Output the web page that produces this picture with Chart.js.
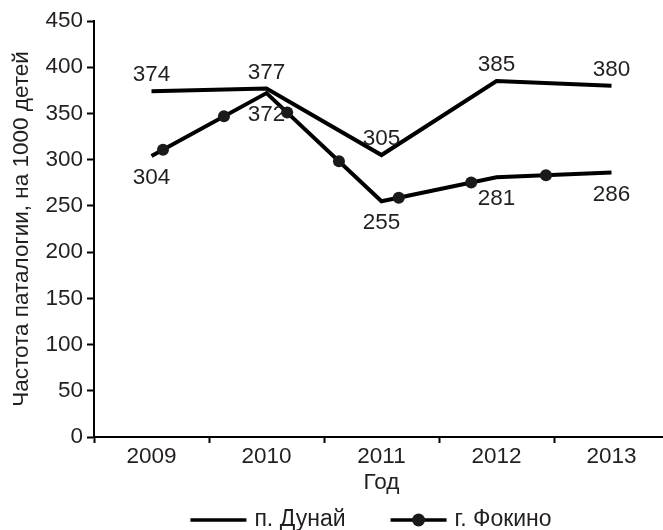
<!DOCTYPE html>
<html>
<head>
<meta charset="utf-8">
<script src="https://cdn.jsdelivr.net/npm/chart.js@4"></script>
<style>
html, body { margin: 0; padding: 0; overflow: hidden; background: #fff; }
#wrap { width: 669px; height: 530px; }
</style>
</head>
<body>
<div id="wrap"><canvas id="line-chart"></canvas></div>
<script>
const years = ['2009', '2010', '2011', '2012', '2013'];
const dunai = [374, 377, 305, 385, 380];
const fokino = [304, 372, 255, 281, 286];
const seriesNames = ['п. Дунай', 'г. Фокино'];

const ink = '#000';
const textInk = '#231f20';
const fontFamily = '"Liberation Sans", Arial, sans-serif';

Chart.defaults.font.family = fontFamily;
Chart.defaults.font.size = 22.5;
Chart.defaults.color = textInk;

// value labels above (-1) or below (+1) each point
const valueLabels = {
    id: 'valueLabels',
    afterDatasetsDraw(chart) {
        const ctx = chart.ctx;
        ctx.save();
        ctx.font = '22.5px ' + fontFamily;
        ctx.fillStyle = textInk;
        ctx.textAlign = 'center';
        ctx.textBaseline = 'middle';
        chart.data.datasets.forEach((ds, i) => {
            const meta = chart.getDatasetMeta(i);
            const shift = ds.labelSide < 0 ? -16 : 22;
            meta.data.forEach((pt, j) => {
                ctx.fillText(String(ds.data[j]), pt.x, pt.y + shift);
            });
        });
        ctx.restore();
    }
};

// the original puts the Фокино dots along the line, between the years
const lineMarkers = {
    id: 'lineMarkers',
    afterDatasetsDraw(chart) {
        const ctx = chart.ctx;
        chart.data.datasets.forEach((ds, i) => {
            if (!ds.markerAt) return;
            const pts = chart.getDatasetMeta(i).data;
            ctx.save();
            ctx.fillStyle = '#1a1a1a';
            ds.markerAt.forEach(f => {
                const k = Math.floor(f);
                const t = f - k;
                const a = pts[k], b = pts[k + 1];
                const x = a.x + (b.x - a.x) * t;
                const y = a.y + (b.y - a.y) * t;
                ctx.beginPath();
                ctx.arc(x, y, 6, 0, Math.PI * 2);
                ctx.fill();
            });
            ctx.restore();
        });
    }
};

const bottomLegend = {
    id: 'bottomLegend',
    afterDraw(chart) {
        const ctx = chart.ctx;
        const y = 520;
        const lineLen = 56, textGap = 8, itemGap = 45;
        ctx.save();
        ctx.font = '23px ' + fontFamily;
        const widths = chart.data.datasets.map(ds => ctx.measureText(ds.label).width);
        let total = 0;
        widths.forEach((w, i) => { total += lineLen + textGap + w + (i ? itemGap : 0); });
        let x = 371 - total / 2;
        chart.data.datasets.forEach((ds, i) => {
            ctx.strokeStyle = ink;
            ctx.lineWidth = 3.5;
            ctx.beginPath();
            ctx.moveTo(x, y);
            ctx.lineTo(x + lineLen, y);
            ctx.stroke();
            if (ds.markerAt) {
                ctx.fillStyle = '#1a1a1a';
                ctx.beginPath();
                ctx.arc(x + lineLen / 2, y, 6.5, 0, Math.PI * 2);
                ctx.fill();
            }
            ctx.fillStyle = textInk;
            ctx.textAlign = 'left';
            ctx.textBaseline = 'middle';
            ctx.fillText(ds.label, x + lineLen + textGap, y);
            x += lineLen + textGap + widths[i] + itemGap;
        });
        ctx.restore();
    }
};

const data = {
    labels: years,
    datasets: [{
        label: seriesNames[0],
        data: dunai,
        borderColor: ink,
        borderWidth: 4,
        pointRadius: 0,
        tension: 0,
        labelSide: -1
    }, {
        label: seriesNames[1],
        data: fokino,
        borderColor: ink,
        borderWidth: 4,
        pointRadius: 0,
        tension: 0,
        labelSide: 1,
        markerAt: [0.10, 0.63, 1.18, 1.63, 2.15, 2.78, 3.43]
    }]
};

const config = {
    type: 'line',
    data: data,
    options: {
        responsive: true,
        maintainAspectRatio: false,
        animation: false,
        layout: { padding: { top: 21, right: 0, bottom: 34, left: 0 } },
        scales: {
            x: {
                offset: true,
                grid: { drawOnChartArea: false, offset: true, tickLength: 6, tickWidth: 2, tickColor: ink },
                border: { color: ink, width: 2 },
                ticks: { padding: 0, color: textInk },
                title: { display: true, text: 'Год', color: textInk, padding: { top: 0, bottom: 0 } },
                afterFit: s => { s.height = 59; }
            },
            y: {
                min: 0,
                max: 450,
                ticks: { stepSize: 50, padding: 4, color: textInk },
                grid: { drawOnChartArea: false, tickLength: 7, tickWidth: 2, tickColor: ink },
                border: { color: ink, width: 2 },
                title: { display: true, text: 'Частота паталогии, на 1000 детей', color: textInk, padding: { top: 8, bottom: 0 } },
                afterFit: s => { s.width = 94; }
            }
        },
        plugins: {
            legend: { display: false },
            tooltip: { enabled: false }
        }
    },
    plugins: [valueLabels, lineMarkers, bottomLegend]
};

let chart = new Chart('line-chart', config);
</script>
</body>
</html>
